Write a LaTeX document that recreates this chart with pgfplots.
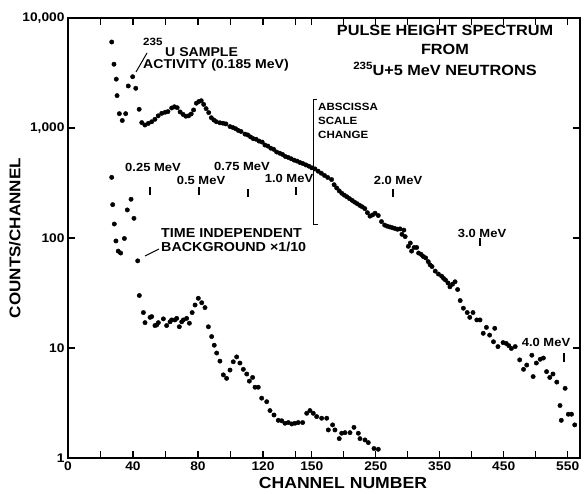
\documentclass[border=0pt]{standalone}
\usepackage{fontspec}
\setmainfont{Liberation Sans}[FakeStretch=1.1]
\usepackage{pgfplots}
\usepackage{pgfplotstable}
\pgfplotsset{compat=1.18}

% upper series: channel number, counts/channel
\pgfplotstableread{
ch v
26.9 6050
28.3 3800
29.7 2780
30.2 1970
31.6 1350
33.4 1170
35.5 1350
37.1 2410
39.8 2925
41.7 2296
43.8 1480
45.4 1120
47.3 1065
49.4 1100
51.5 1140
53.5 1200
55.5 1290
57.7 1360
59.8 1390
61.5 1410
63.8 1520
65.5 1560
67.2 1530
69.0 1400
70.8 1330
72.5 1280
74.2 1290
75.8 1340
77.3 1460
79.0 1680
80.5 1740
82.0 1770
83.5 1640
85.0 1500
86.6 1380
88.2 1240
89.8 1180
91.3 1140
93.5 1115
95.4 1105
97.2 1090
99.7 1030
101.5 1010
103.2 985
104.8 950
106.5 930
108.9 880
110.6 865
112.3 830
114.0 800
115.8 790
117.6 760
119.5 745
121.2 700
123.0 685
124.8 655
126.6 640
128.4 605
130.3 590
132.0 575
133.8 550
135.6 540
137.4 525
139.2 510
141.0 500
142.8 485
144.6 475
146.4 462
148.2 450
150 435
155 425
160 405
165 388
170 370
175 355
181 340
185 305
189 285
193 268
197 255
201 245
205 237
209 228
213 220
217 212
221 205
225 198
229 192
233 185
237 170
241 158
245 162
249 168
254 160
259 141
264 131
268 128
272 126
276 124
280 122
284 120
288 121
291 108
294 118
296 103
301 84
304 90
306 76
310 82
314 82
317 73
321 71
324 68
328 66
332 61
335 57
338 55
343 50
348 47
353 45
356 43
359 41.5
363 39
366 36
370 38
374 40
378 34
382 27
387 23
393 21
397 19
402 21
408 18
413 18
418 13.6
423 15.4
428 13.1
434 11.4
436 15.1
441 10.3
449 11.2
454 11
458 10.5
462 9.9
468 10.3
475 7.8
481 6.4
486 7.0
494 8.6
496 5.5
501 7.3
507 7.9
512 8.1
517 6.1
522 5.4
527 5.8
533 4.9
538 3.0
540 2.2
546 4.3
551 2.5
556 2.5
561 2.0
}\upper

% time independent background (x 1/10)
\pgfplotstableread{
ch v
26.9 356
27.5 201
28.5 134
29.5 94
30.9 76
32.4 73
34.7 99
36.5 180
38.8 225
40.6 151
42.9 62
43.9 30
46.4 21
47.4 17
50.5 19
51.5 19.3
53.5 16
54.6 16.2
55.6 17
58.7 18.4
60.7 16
62.8 17.3
63.8 18
65.8 18
66.9 18.6
68.5 15.6
70 17.3
71 18
73 18.6
74.7 16.8
76.4 21
78.2 24.6
80.2 28.3
82.3 25.8
84.3 23.3
86.4 15.6
88.4 12.7
90 10.6
91.5 9.0
93.5 7.6
95.6 5.7
97.6 5.3
99.7 6.3
101.7 7.5
103.8 8.3
105.8 7.3
107.9 6.4
110 5.8
111.6 5.0
113.6 5.4
115.1 4.4
117.1 4.4
119.2 3.5
122.3 3.25
124.3 2.7
126.8 2.46
129.4 2.2
131.5 2.18
133.5 2.07
135.6 2.1
137.7 2.04
139.7 2.07
141.7 2.1
144.4 2.1
146.9 2.55
148.9 2.7
152.4 2.55
157.7 2.38
165.5 2.3
173.4 2.3
175.9 1.8
182.6 2.0
186.3 1.8
193 1.5
196.8 1.68
202 1.7
209.8 1.7
216 1.9
222.8 1.68
225.4 1.5
233.2 1.46
238.4 1.38
247.3 1.22
254 1.2
}\background

\begin{document}
\begin{tikzpicture}[x=1pt,y=1pt]
\begin{axis}[
  at={(68pt,35pt)}, anchor=south west,
  scale only axis, width=512pt, height=440pt,
  ymode=log, ymin=1, ymax=10000,
  xmin=0, xmax=315.1,
  log basis y=10,
  ytick={1,10,100,1000,10000},
  yticklabels={1,10,100,{1,000},{10,000}},
  xtick={0,20,40,60,80,100,120,140,150,169.69,189.38,209.07,228.76,248.45,268.14,287.83,307.52},
  xticklabels={0,,40,,80,,120,,150,,250,,350,,450,,550},
  minor x tick num=0,
  axis line style={line width=1.6pt},
  every tick/.style={black, line width=1.2pt},
  major tick length=7pt, minor tick length=4.5pt,
  tick label style={font=\bfseries\fontsize{12.5}{13}\selectfont},
  /pgf/number format/assume math mode=true,
  clip=false,
]
\addplot[only marks, mark=*, mark size=2.2pt, black]
  table[x expr={min(\thisrow{ch},150)+0.3938*max(\thisrow{ch}-150,0)}, y=v] {\upper};
\addplot[only marks, mark=*, mark size=2.2pt, black]
  table[x expr={min(\thisrow{ch},150)+0.3938*max(\thisrow{ch}-150,0)}, y=v] {\background};
\end{axis}

% axis titles
\node[rotate=90, font=\bfseries\fontsize{15.5}{16}\selectfont] at (15,255) {COUNTS/CHANNEL};
\node[font=\bfseries\fontsize{16}{16}\selectfont] at (343,10) {CHANNEL NUMBER};

% title
\node[font=\bfseries\fontsize{14.8}{16}\selectfont] at (445,463) {PULSE HEIGHT SPECTRUM};
\node[font=\bfseries\fontsize{14.8}{16}\selectfont] at (445,444) {FROM};
\node[font=\bfseries\fontsize{14.8}{16}\selectfont] at (445,424) {\raisebox{0.7ex}{\fontsize{10.5}{10}\selectfont 235}U+5 MeV NEUTRONS};

% 235U sample activity
\node[anchor=west, inner sep=0, font=\bfseries\fontsize{10.5}{10}\selectfont] at (143,451) {235};
\node[anchor=west, inner sep=0, font=\bfseries\fontsize{12.8}{13}\selectfont] at (165,441) {U SAMPLE};
\node[anchor=west, inner sep=0, font=\bfseries\fontsize{12.8}{13}\selectfont] at (143,428) {ACTIVITY (0.185 MeV)};
\draw[line width=1pt] (136,421) -- (147,440);

% background label
\node[anchor=west, inner sep=0, font=\bfseries\fontsize{13}{13}\selectfont] at (161,260) {TIME INDEPENDENT};
\node[anchor=west, inner sep=0, font=\bfseries\fontsize{13}{13}\selectfont] at (161,246) {BACKGROUND ×1/10};
\draw[line width=1pt] (145,237) -- (159,244);

% abscissa scale change
\draw[line width=1pt] (317,393) -- (313,393) -- (313,268) -- (318,268);
\node[anchor=west, inner sep=0, font=\bfseries\fontsize{10.5}{10}\selectfont] at (318,386) {ABSCISSA};
\node[anchor=west, inner sep=0, font=\bfseries\fontsize{10.5}{10}\selectfont] at (318,372) {SCALE};
\node[anchor=west, inner sep=0, font=\bfseries\fontsize{10.5}{10}\selectfont] at (318,358) {CHANGE};

% energy markers
\begin{scope}[font=\bfseries\fontsize{11.8}{12}\selectfont]
\node at (153,326) {0.25 MeV};
\node at (201,313) {0.5 MeV};
\node at (242,327) {0.75 MeV};
\node at (289,315) {1.0 MeV};
\node at (398,313) {2.0 MeV};
\node at (482,260) {3.0 MeV};
\node at (546,151) {4.0 MeV};
\end{scope}
\begin{scope}[line width=1.3pt]
\draw (150,306) -- (150,298);
\draw (199,306) -- (199,298);
\draw (248,304) -- (248,296);
\draw (296,306) -- (296,298);
\draw (393,304) -- (393,296);
\draw (480,255) -- (480,247);
\draw (564,140) -- (564,131);
\end{scope}

\pgfresetboundingbox
\path[use as bounding box] (0,0) rectangle (586,493);
\end{tikzpicture}
\end{document}
